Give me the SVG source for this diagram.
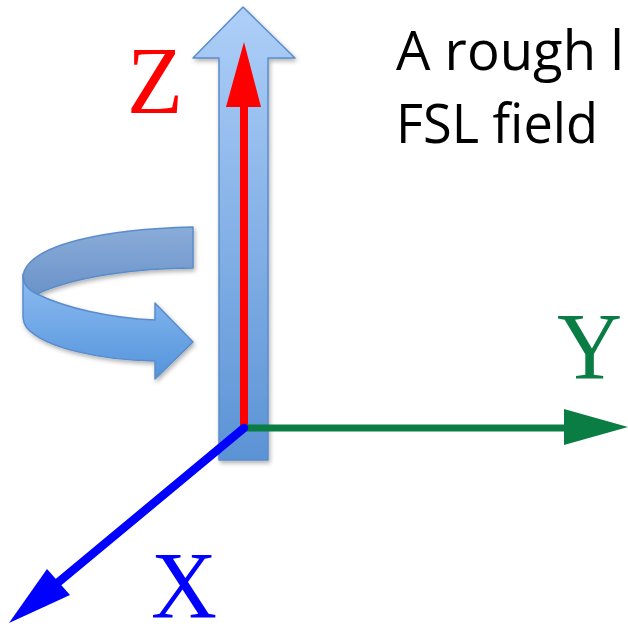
<svg xmlns="http://www.w3.org/2000/svg" width="628" height="626" viewBox="0 0 628 626">
  <defs>
    <linearGradient id="gShaft" x1="0" y1="0" x2="0" y2="1">
      <stop offset="0" stop-color="#aecff8"/>
      <stop offset="1" stop-color="#5b93d5"/>
    </linearGradient>
    <linearGradient id="gBack" x1="0" y1="0" x2="0" y2="1">
      <stop offset="0" stop-color="#8aacd9"/>
      <stop offset="1" stop-color="#6b93c9"/>
    </linearGradient>
    <linearGradient id="gFront" x1="0" y1="0" x2="0" y2="1">
      <stop offset="0" stop-color="#8dbcf1"/>
      <stop offset="1" stop-color="#5494dc"/>
    </linearGradient>
    <filter id="shadow" x="-20%" y="-20%" width="140%" height="140%">
      <feDropShadow dx="1.5" dy="2.5" stdDeviation="2" flood-color="#000" flood-opacity="0.3"/>
    </filter>
    <style>
      .band { stroke: #5a8ccb; stroke-width: 1.5; stroke-linejoin: round; }
      .axislabel { font-family: "Liberation Serif", "Times New Roman", serif; font-size: 95px; }
      .note { font-family: "Open Sans", "Liberation Sans", sans-serif; font-size: 54px; fill: #000; }
    </style>
  </defs>

  <g id="rotation-arrow" filter="url(#shadow)">
    <path class="band" fill="url(#gBack)" d="M193,227 L193,268 C140,268 75,276 37,294 C28,290 23,283 23,275 C30,243 110,229 193,227 Z"/>
    <path class="band" fill="url(#gFront)" d="M23,275 C23,283 28,290 37,294 C65,308 110,318 155,320 L155,303 L193,342 L155,379 L155,361 C100,360 45,348 27,328 C24,324 23,320 23,316 Z"/>
  </g>

  <g id="z-shaft" filter="url(#shadow)">
    <path class="band" fill="url(#gShaft)" d="M243,7 L295,58 L268,58 L268,460 L219,460 L219,58 L193,58 Z"/>
  </g>

  <g id="axes">
    <line x1="244" y1="429" x2="244" y2="100" stroke="#ff0000" stroke-width="8"/>
    <polygon points="244,42 261,107 226,107" fill="#ff0000"/>
    <line x1="244" y1="428" x2="570" y2="428" stroke="#0a7d45" stroke-width="7"/>
    <polygon points="628,427 564,409 564,445" fill="#0a7d45"/>
    <line x1="244" y1="428" x2="55" y2="585" stroke="#0000ff" stroke-width="8.5" stroke-linecap="round"/>
    <polygon points="9,623 47,569 70,595" fill="#0000ff"/>
  </g>

  <g id="labels">
    <text class="axislabel" x="127" y="113" fill="#ff0000" textLength="56" lengthAdjust="spacingAndGlyphs">Z</text>
    <text class="axislabel" x="557" y="379" fill="#0a7d45" textLength="65" lengthAdjust="spacingAndGlyphs">Y</text>
    <text class="axislabel" x="151" y="618" fill="#0000ff" textLength="66" lengthAdjust="spacingAndGlyphs">X</text>
  </g>

  <g id="note">
    <text class="note" x="396" y="70" textLength="228" lengthAdjust="spacingAndGlyphs">A rough l</text>
    <text class="note" x="396" y="143" textLength="202" lengthAdjust="spacingAndGlyphs">FSL field</text>
  </g>
</svg>
